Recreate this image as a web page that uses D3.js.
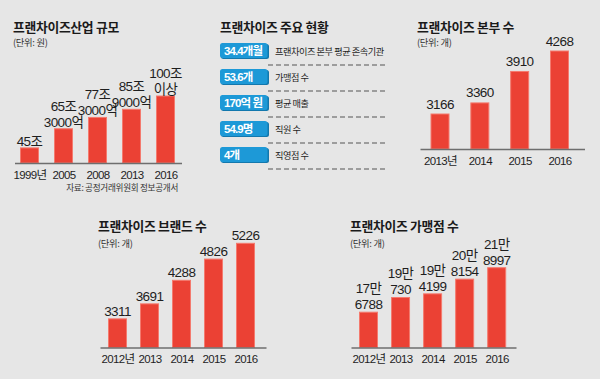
<!DOCTYPE html>
<html><head><meta charset="utf-8">
<script src="https://cdn.jsdelivr.net/npm/d3@7"></script>
<style>
html,body{margin:0;padding:0;background:#e6e6e6;}
svg{display:block;}
</style></head>
<body>
<svg id="c" width="600" height="379"></svg>
<script>
// ---------- DATA ----------
const industryYears = ["1999년", "2005", "2008", "2013", "2016"];
const industryValues = [45, 65.3, 77.3, 85.9, 100]; // 조원
const industryLabels = [["45조"], ["65조", "3000억"], ["77조", "3000억"], ["85조", "9000억"], ["100조", "이상"]];

const statusValues = ["34.4개월", "53.6개", "170억 원", "54.9명", "4개"];
const statusItems = ["프랜차이즈 본부 평균 존속기관", "가맹점 수", "평균 매출", "직원 수", "직영점 수"];

const hqYears = ["2013년", "2014", "2015", "2016"];
const hqValues = [3166, 3360, 3910, 4268];

const brandYears = ["2012년", "2013", "2014", "2015", "2016"];
const brandValues = [3311, 3691, 4288, 4826, 5226];

const storeYears = ["2012년", "2013", "2014", "2015", "2016"];
const storeValues = [176788, 190730, 194199, 208154, 218997];

// ---------- STYLE ----------
const BAR = "#eb4134", BAR_EDGE = "#f47a6e";
const KFONT = "'Noto Sans CJK KR', 'Noto Sans', sans-serif";
const NFONT = "'Liberation Sans', 'Noto Sans CJK KR', sans-serif";
const svg = d3.select("#c");

function title(x, y, t) {
  svg.append("text").attr("x", x).attr("y", y).text(t)
    .attr("font-family", KFONT).attr("font-weight", 700).attr("font-size", 12.8)
    .attr("fill", "#1a1a1a").attr("letter-spacing", -0.3);
}
function unit(x, y, t) {
  svg.append("text").attr("x", x).attr("y", y).text(t)
    .attr("font-family", KFONT).attr("font-size", 9.3)
    .attr("fill", "#333").attr("letter-spacing", -0.3);
}

function barChart(o) {
  const g = svg.append("g");
  const x = d3.scalePoint().domain(o.cats).range(o.xr);
  const y = d3.scaleLinear().domain(o.yd).range([o.base, o.top]);
  const bw = 19;
  g.selectAll("rect.bar").data(o.values).join("rect")
    .attr("class", "bar")
    .attr("x", (d, i) => x(o.cats[i]) - bw / 2 + 0.5)
    .attr("y", d => y(d))
    .attr("width", bw - 1)
    .attr("height", d => o.base - y(d))
    .attr("fill", BAR).attr("stroke", BAR_EDGE).attr("stroke-width", 1);
  const ax = d3.axisBottom(x).tickSize(0).tickPadding(0);
  const axg = g.append("g").attr("transform", `translate(0,${o.base})`).call(ax);
  axg.select(".domain").remove();
  g.append("line").attr("x1", o.ax[0]).attr("x2", o.ax[1])
    .attr("y1", o.base + 0.5).attr("y2", o.base + 0.5)
    .attr("stroke", "#6e6e6e").attr("stroke-width", 1.3);
  axg.selectAll("text").attr("dy", null).attr("y", 15.5)
    .attr("font-family", NFONT).attr("font-size", 11.5)
    .attr("letter-spacing", -0.6).attr("fill", "#1e1e1e");
  o.labels.forEach((lines, i) => {
    const cx = x(o.cats[i]);
    const ty = y(o.values[i]) - o.gap;
    lines.forEach((ln, j) => {
      g.append("text").attr("x", cx).attr("y", ty - (lines.length - 1 - j) * 16)
        .attr("text-anchor", "middle").text(ln)
        .attr("font-family", NFONT).attr("font-size", 13.5)
        .attr("letter-spacing", -0.6).attr("fill", "#1e1e1e");
    });
  });
}

// ---------- Panel 1 ----------
title(13, 31.5, "프랜차이즈산업 규모");
unit(13, 46, "(단위: 원)");
barChart({cats: industryYears, values: industryValues, labels: industryLabels,
  xr: [29.5, 165.5], yd: [29, 100], base: 163, top: 96, ax: [15, 182], gap: 2});
svg.append("text").attr("x", 178).attr("y", 191).attr("text-anchor", "end")
  .text("자료: 공정거래위원회 정보공개서")
  .attr("font-family", KFONT).attr("font-size", 8.6).attr("fill", "#333").attr("letter-spacing", -0.3);

// ---------- Panel 2 ----------
title(220, 31.5, "프랜차이즈 주요 현황");
const rowY = d3.scalePoint().domain(statusItems).range([43, 147]);
const rows = svg.append("g");
statusItems.forEach((item, i) => {
  const y0 = rowY(item);
  rows.append("line").attr("x1", 268).attr("x2", 385)
    .attr("y1", y0 + 22).attr("y2", y0 + 22)
    .attr("stroke", "#555").attr("stroke-width", 1.1).attr("stroke-dasharray", "5,3");
  rows.append("rect").attr("x", 221).attr("y", y0 + 1).attr("width", 48).attr("height", 15)
    .attr("rx", 2.5).attr("fill", "#1378ad");
  rows.append("rect").attr("x", 220).attr("y", y0).attr("width", 47.5).attr("height", 15)
    .attr("rx", 2.5).attr("fill", "#1d99d7");
  rows.append("text").attr("x", 224).attr("y", y0 + 12).text(statusValues[i])
    .attr("font-family", NFONT).attr("font-weight", 700).attr("font-size", 11.5)
    .attr("letter-spacing", -0.9).attr("fill", "#fff");
  rows.append("text").attr("x", 275).attr("y", y0 + 11.5).text(item)
    .attr("font-family", KFONT).attr("font-size", 9.2)
    .attr("letter-spacing", -0.45).attr("fill", "#1e1e1e");
});

// ---------- Panel 3 ----------
title(417, 31.5, "프랜차이즈 본부 수");
unit(417, 46, "(단위: 개)");
barChart({cats: hqYears, values: hqValues, labels: hqValues.map(v => [String(v)]),
  xr: [440, 559.5], yd: [2554, 4268], base: 149, top: 51, ax: [420.5, 585], gap: 5.5});

// ---------- Panel 4 ----------
title(98, 231, "프랜차이즈 브랜드 수");
unit(98, 247, "(단위: 개)");
barChart({cats: brandYears, values: brandValues, labels: brandValues.map(v => [String(v)]),
  xr: [117.5, 245.5], yd: [2585, 5226], base: 347.5, top: 243.3, ax: [100.5, 266.5], gap: 3});

// ---------- Panel 5 ----------
title(350, 231, "프랜차이즈 가맹점 수");
unit(350, 247, "(단위: 개)");
barChart({cats: storeYears, values: storeValues,
  labels: storeValues.map(v => [Math.floor(v / 10000) + "만", String(v % 10000)]),
  xr: [368.5, 496.7], yd: [143300, 218997], base: 347.5, top: 267.7, ax: [351.5, 516.5], gap: 3});
</script>
</body></html>
